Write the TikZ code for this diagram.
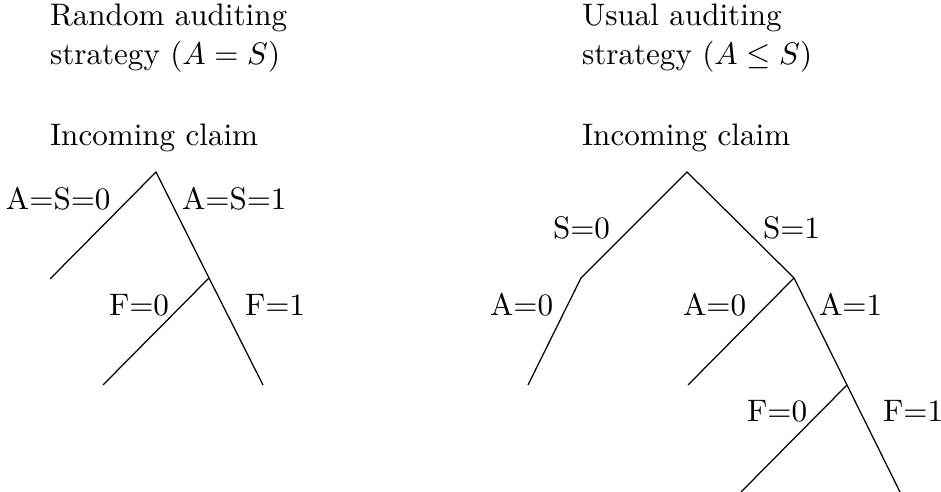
\documentclass[tikz,border=0pt]{standalone}
\begin{document}
\begin{tikzpicture}[x=0.3216pt,y=-0.3216pt,
  lbl/.style={anchor=base west,inner sep=0pt,outer sep=0pt},
  edge/.style={line width=0.4pt}]
\useasboundingbox (0,0) rectangle (941,492);
% titles
\node[lbl] (t1a) at (50,26) {Random auditing};
\node[lbl] (t1b) at (50,65) {strategy ($A=S$)};
\node[lbl] (t1c) at (50,146) {Incoming claim};
\node[lbl] (t2a) at (582,26) {Usual auditing};
\node[lbl] (t2b) at (582,65) {strategy ($A\leq S$)};
\node[lbl] (t2c) at (582,146) {Incoming claim};
% left tree
\coordinate (Lr) at (156,172);
\coordinate (L0) at (50,279);
\coordinate (L1) at (209,278);
\coordinate (L10) at (103,385);
\coordinate (L11) at (263,385);
\draw[edge] (L0) -- (Lr) -- (L1) -- (L11);
\draw[edge] (L1) -- (L10);
\node[lbl] (la) at (6,210) {A=S=0};
\node[lbl] (lb) at (182,210) {A=S=1};
\node[lbl] (lc) at (109,316) {F=0};
\node[lbl] (ld) at (245,316) {F=1};
% right tree
\coordinate (Rr) at (687,172);
\coordinate (R0) at (581,278);
\coordinate (R00) at (528,385);
\coordinate (R1) at (794,278);
\coordinate (R10) at (688,385);
\coordinate (R11) at (847,385);
\coordinate (R110) at (741,492);
\coordinate (R111) at (900,492);
\draw[edge] (R00) -- (R0) -- (Rr) -- (R1) -- (R11) -- (R111);
\draw[edge] (R1) -- (R10);
\draw[edge] (R11) -- (R110);
\node[lbl] (ra) at (553,239) {S=0};
\node[lbl] (rb) at (763,239) {S=1};
\node[lbl] (rc) at (490,316) {A=0};
\node[lbl] (rd) at (683,316) {A=0};
\node[lbl] (re) at (819,316) {A=1};
\node[lbl] (rf) at (747,422) {F=0};
\node[lbl] (rg) at (883,422) {F=1};
\end{tikzpicture}
\end{document}
